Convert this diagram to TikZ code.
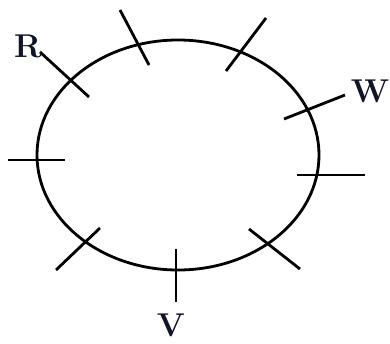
\documentclass[tikz,border=0pt]{standalone}
\definecolor{labelblue}{RGB}{16,20,40}
\tikzset{
  tick/.style={line width=2.8pt},
  lbl/.style={inner sep=0pt,text=labelblue,font=\fontsize{33}{33}\selectfont\bfseries}
}
\begin{document}
\begin{tikzpicture}[x=1pt,y=-1pt]
  \useasboundingbox (0,0) rectangle (390,343);
  \draw[line width=2.8pt] (178,155) ellipse [x radius=141pt, y radius=115pt];
  \foreach \xa/\ya/\xb/\yb in {40/52/89/97, 120/10/149/65, 266/18/226/71,
      345/95/284/119, 297/175/365/175, 249/229/300/269, 176/249/176/302,
      100/228/56/270, 8/160/65/160} {
    \draw[tick] (\xa,\ya) -- (\xb,\yb);
  }
  \node[lbl] (R) at (28,46) {R};
  \node[lbl] (W) at (370,91) {W};
  \node[lbl] (V) at (171,325) {V};
\end{tikzpicture}
\end{document}
